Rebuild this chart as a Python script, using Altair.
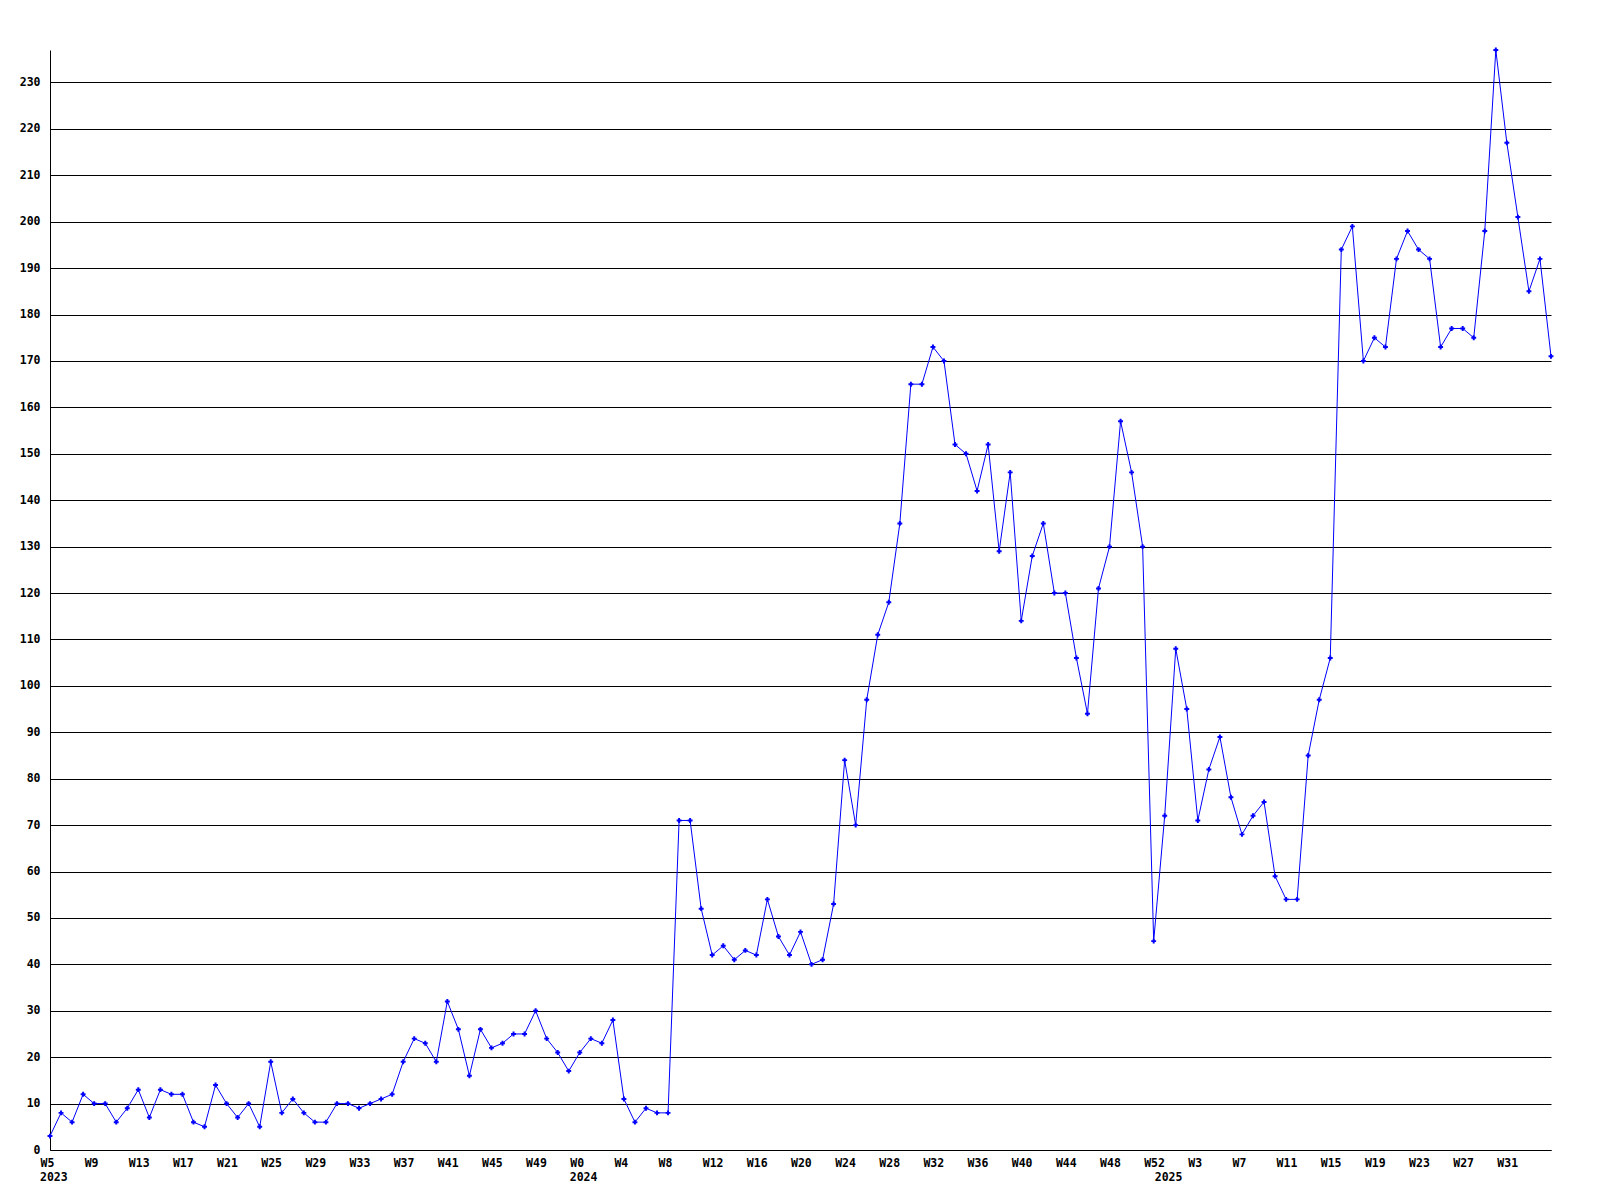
import json
import altair as alt
import pandas as pd

# Week labels (2023 W5 .. 2025 W35)
week_names = ([f"W{w}" for w in range(5, 53)]
              + [f"W{w}" for w in range(0, 53)]
              + [f"W{w}" for w in range(0, 36)])

values = [
    3, 8, 6, 12, 10, 10, 6, 9, 13, 7, 13, 12, 12, 6, 5, 14, 10, 7, 10, 5,
    19, 8, 11, 8, 6, 6, 10, 10, 9, 10, 11, 12, 19, 24,
    23, 19, 32, 26, 16, 26, 22, 23, 25, 25, 30, 24, 21, 17, 21, 24, 23, 28,
    11, 6, 9, 8, 8,
    71, 71, 52, 42, 44, 41, 43, 42, 54, 46, 42, 47, 40, 41, 53, 84, 70,
    97, 111, 118, 135, 165, 165, 173, 170, 152, 150, 142, 152, 129, 146, 114,
    128, 135, 120, 120, 106, 94, 121, 130, 157, 146, 130,
    45, 72, 108, 95, 71, 82, 89, 76, 68, 72, 75, 59, 54, 54, 85, 97, 106,
    194, 199, 170, 175, 173, 192, 198, 194, 192, 173, 177, 177, 175, 198, 237,
    217, 201, 185, 192, 171,
]

year_labels = ["2023", "2024", "2025"]
year_positions = [0, 48, 101]

y_ticks = list(range(0, 231, 10))
x_tick_positions = list(range(0, 133, 4))

df = pd.DataFrame({"idx": list(range(len(values))), "value": values, "week": week_names})
years_df = pd.DataFrame({"idx": year_positions, "year": year_labels})

FONT = "DejaVu Sans Mono"
FSIZE = 11.5
label_expr = json.dumps(week_names) + "[datum.value]"

x_enc = alt.X(
    "idx:Q",
    scale=alt.Scale(domain=[0, len(values) - 1], nice=False, zero=False),
    axis=alt.Axis(
        values=x_tick_positions,
        labelExpr=label_expr,
        grid=False,
        ticks=False,
        tickSize=0,
        labelAlign="left",
        labelBaseline="top",
        labelOffset=-10,
        labelPadding=7,
        labelFlush=False,
        labelOverlap=False,
        domainColor="black",
        domainWidth=1,
        labelFont=FONT,
        labelFontSize=FSIZE,
        labelFontWeight="bold",
        labelColor="black",
        title=None,
    ),
)
y_enc = alt.Y(
    "value:Q",
    scale=alt.Scale(domain=[0, 237], nice=False, zero=True),
    axis=alt.Axis(
        values=y_ticks,
        grid=True,
        gridColor="black",
        gridOpacity=1,
        gridWidth=1,
        ticks=False,
        tickSize=0,
        labelPadding=10,
        labelFlush=False,
        labelOverlap=False,
        domainColor="black",
        domainWidth=1,
        labelFont=FONT,
        labelFontSize=FSIZE,
        labelFontWeight="bold",
        labelColor="black",
        title=None,
    ),
)

base = alt.Chart(df).encode(x=x_enc, y=y_enc)
line = base.mark_line(color="#0000ff", strokeWidth=1)
points = base.mark_point(shape="cross", filled=True, size=24, color="#0000ff", opacity=1)

years = alt.Chart(years_df).mark_text(
    align="left", baseline="alphabetic", dx=-10, font=FONT, fontSize=FSIZE,
    fontWeight="bold", color="black"
).encode(x=alt.X("idx:Q"), y=alt.value(1131), text="year:N")

chart = alt.layer(line, points, years).properties(
    width=1501,
    height=1100,
    padding={"left": 42, "top": 42, "right": 40, "bottom": 48},
    autosize=alt.AutoSizeParams(type="none"),
    background="white",
).configure_view(strokeWidth=0)

chart.save("out.html", embed_options={"renderer": "svg", "actions": False})
